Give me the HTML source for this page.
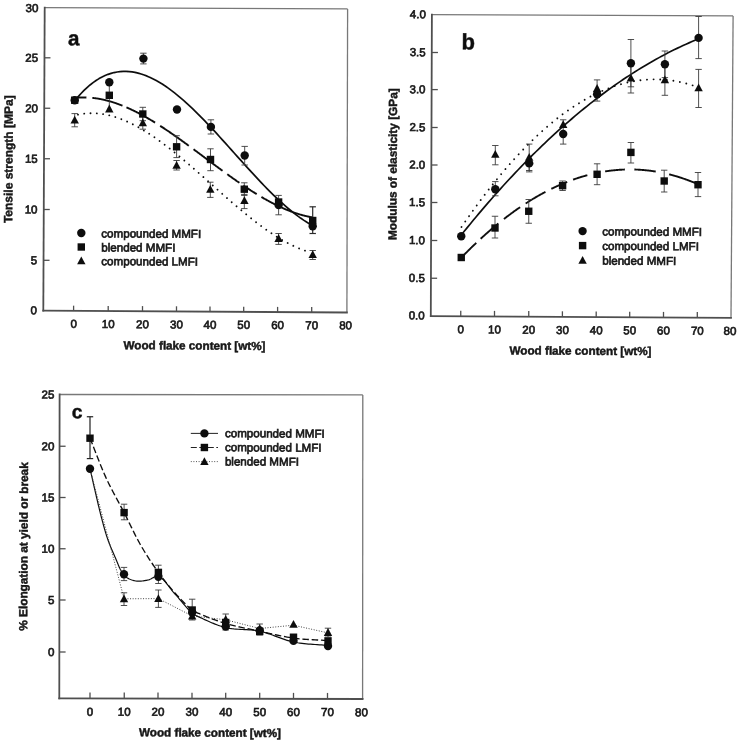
<!DOCTYPE html>
<html><head><meta charset="utf-8"><title>Figure</title>
<style>
html,body{margin:0;padding:0;background:#fff;}
body{width:740px;height:743px;overflow:hidden;font-family:"Liberation Sans",sans-serif;}
svg{display:block;font-family:"Liberation Sans",sans-serif;}
</style></head><body>
<svg width="740" height="743" viewBox="0 0 740 743">
<defs><filter id="soft" x="-2%" y="-2%" width="104%" height="104%"><feGaussianBlur stdDeviation="0.62"/></filter></defs>
<rect width="740" height="743" fill="#fff"/>
<g filter="url(#soft)">
<line x1="44.70" y1="7.70" x2="347.60" y2="8.90" stroke="#787878" stroke-width="1.3" />
<line x1="347.60" y1="8.90" x2="346.90" y2="312.50" stroke="#787878" stroke-width="1.3" />
<line x1="43.30" y1="310.70" x2="346.90" y2="312.50" stroke="#505050" stroke-width="1.8" stroke-linecap="square"/>
<line x1="44.70" y1="7.70" x2="43.30" y2="310.70" stroke="#505050" stroke-width="1.8" stroke-linecap="square"/>
<text x="38.40" y="12.00" font-size="11.5" text-anchor="end" transform="rotate(0.3 38.40 12.00)" fill="#161616" stroke="#161616" stroke-width="0.65">30</text>
<line x1="44.47" y1="57.80" x2="50.47" y2="57.80" stroke="#505050" stroke-width="1.3" />
<text x="38.17" y="61.90" font-size="11.5" text-anchor="end" transform="rotate(0.3 38.17 61.90)" fill="#161616" stroke="#161616" stroke-width="0.65">25</text>
<line x1="44.24" y1="108.25" x2="50.24" y2="108.25" stroke="#505050" stroke-width="1.3" />
<text x="37.94" y="112.35" font-size="11.5" text-anchor="end" transform="rotate(0.3 37.94 112.35)" fill="#161616" stroke="#161616" stroke-width="0.65">20</text>
<line x1="44.00" y1="158.75" x2="50.00" y2="158.75" stroke="#505050" stroke-width="1.3" />
<text x="37.70" y="162.85" font-size="11.5" text-anchor="end" transform="rotate(0.3 37.70 162.85)" fill="#161616" stroke="#161616" stroke-width="0.65">15</text>
<line x1="43.77" y1="209.50" x2="49.77" y2="209.50" stroke="#505050" stroke-width="1.3" />
<text x="37.47" y="213.60" font-size="11.5" text-anchor="end" transform="rotate(0.3 37.47 213.60)" fill="#161616" stroke="#161616" stroke-width="0.65">10</text>
<line x1="43.53" y1="260.30" x2="49.53" y2="260.30" stroke="#505050" stroke-width="1.3" />
<text x="37.23" y="264.40" font-size="11.5" text-anchor="end" transform="rotate(0.3 37.23 264.40)" fill="#161616" stroke="#161616" stroke-width="0.65">5</text>
<text x="37.00" y="314.40" font-size="11.5" text-anchor="end" transform="rotate(0.3 37.00 314.40)" fill="#161616" stroke="#161616" stroke-width="0.65">0</text>
<line x1="73.60" y1="310.88" x2="73.60" y2="305.68" stroke="#505050" stroke-width="1.3" />
<text x="73.60" y="327.88" font-size="11.5" text-anchor="middle" transform="rotate(0.3 73.60 327.88)" fill="#161616" stroke="#161616" stroke-width="0.65">0</text>
<line x1="108.20" y1="311.08" x2="108.20" y2="305.88" stroke="#505050" stroke-width="1.3" />
<text x="108.20" y="328.08" font-size="11.5" text-anchor="middle" transform="rotate(0.3 108.20 328.08)" fill="#161616" stroke="#161616" stroke-width="0.65">10</text>
<line x1="142.50" y1="311.29" x2="142.50" y2="306.09" stroke="#505050" stroke-width="1.3" />
<text x="142.50" y="328.29" font-size="11.5" text-anchor="middle" transform="rotate(0.3 142.50 328.29)" fill="#161616" stroke="#161616" stroke-width="0.65">20</text>
<line x1="176.50" y1="311.49" x2="176.50" y2="306.29" stroke="#505050" stroke-width="1.3" />
<text x="176.50" y="328.49" font-size="11.5" text-anchor="middle" transform="rotate(0.3 176.50 328.49)" fill="#161616" stroke="#161616" stroke-width="0.65">30</text>
<line x1="210.00" y1="311.69" x2="210.00" y2="306.49" stroke="#505050" stroke-width="1.3" />
<text x="210.00" y="328.69" font-size="11.5" text-anchor="middle" transform="rotate(0.3 210.00 328.69)" fill="#161616" stroke="#161616" stroke-width="0.65">40</text>
<line x1="243.70" y1="311.89" x2="243.70" y2="306.69" stroke="#505050" stroke-width="1.3" />
<text x="243.70" y="328.89" font-size="11.5" text-anchor="middle" transform="rotate(0.3 243.70 328.89)" fill="#161616" stroke="#161616" stroke-width="0.65">50</text>
<line x1="277.60" y1="312.09" x2="277.60" y2="306.89" stroke="#505050" stroke-width="1.3" />
<text x="277.60" y="329.09" font-size="11.5" text-anchor="middle" transform="rotate(0.3 277.60 329.09)" fill="#161616" stroke="#161616" stroke-width="0.65">60</text>
<line x1="311.70" y1="312.29" x2="311.70" y2="307.09" stroke="#505050" stroke-width="1.3" />
<text x="311.70" y="329.29" font-size="11.5" text-anchor="middle" transform="rotate(0.3 311.70 329.29)" fill="#161616" stroke="#161616" stroke-width="0.65">70</text>
<text x="345.60" y="329.20" font-size="11.5" text-anchor="middle" transform="rotate(0.3 345.60 329.20)" fill="#161616" stroke="#161616" stroke-width="0.65">80</text>
<text x="194.50" y="349.60" font-size="11.7" text-anchor="middle" font-weight="bold" transform="rotate(0.3 194.50 349.60)" fill="#161616" stroke="#161616" stroke-width="0.45">Wood flake content [wt%]</text>
<text x="12.60" y="159.20" font-size="12" text-anchor="middle" font-weight="bold" transform="rotate(-89.7 12.60 159.20)" fill="#161616" stroke="#161616" stroke-width="0.45">Tensile strength [MPa]</text>
<text x="73.60" y="45.40" font-size="20.5" text-anchor="middle" font-weight="bold" transform="rotate(0.3 73.60 45.40)" fill="#111" stroke="#111" stroke-width="0.45">a</text>
<path d="M75.00 100.46 L78.01 96.84 L81.02 93.49 L84.02 90.39 L87.03 87.55 L90.04 84.96 L93.05 82.61 L96.05 80.50 L99.06 78.62 L102.07 76.97 L105.08 75.54 L108.08 74.33 L111.09 73.34 L114.10 72.55 L117.11 71.97 L120.11 71.58 L123.12 71.38 L126.13 71.38 L129.14 71.55 L132.14 71.91 L135.15 72.43 L138.16 73.13 L141.17 73.98 L144.17 74.99 L147.18 76.16 L150.19 77.47 L153.20 78.92 L156.21 80.51 L159.21 82.23 L162.22 84.08 L165.23 86.05 L168.24 88.14 L171.24 90.34 L174.25 92.64 L177.26 95.04 L180.27 97.54 L183.27 100.14 L186.28 102.81 L189.29 105.57 L192.30 108.41 L195.30 111.31 L198.31 114.29 L201.32 117.32 L204.33 120.40 L207.33 123.54 L210.34 126.72 L213.35 129.95 L216.36 133.20 L219.36 136.49 L222.37 139.81 L225.38 143.14 L228.39 146.49 L231.39 149.84 L234.40 153.21 L237.41 156.57 L240.42 159.92 L243.43 163.27 L246.43 166.60 L249.44 169.91 L252.45 173.19 L255.46 176.45 L258.46 179.66 L261.47 182.84 L264.48 185.97 L267.49 189.04 L270.49 192.07 L273.50 195.03 L276.51 197.92 L279.52 200.74 L282.52 203.49 L285.53 206.15 L288.54 208.73 L291.55 211.21 L294.55 213.60 L297.56 215.89 L300.57 218.07 L303.58 220.13 L306.58 222.08 L309.59 223.91 L312.60 225.61" fill="none" stroke="#111" stroke-width="1.7" stroke-linecap="butt" stroke-linejoin="round"/>
<path d="M77.00 97.70 L77.39 97.67 L77.78 97.64 L78.18 97.61 L78.57 97.59 L78.96 97.56 L79.35 97.54 L79.75 97.52 L80.14 97.50 L80.53 97.49 L80.92 97.47 L81.32 97.46 L81.71 97.45 L82.10 97.44 L82.49 97.43 L82.88 97.43 L83.28 97.43 L83.67 97.43 L84.06 97.43 L84.45 97.43 L84.85 97.43 L85.24 97.44 L85.63 97.45 L86.02 97.46 L86.42 97.47" fill="none" stroke="#111" stroke-width="1.9" stroke-linecap="butt" stroke-linejoin="round"/>
<path d="M92.30 97.87 L92.69 97.91 L93.09 97.96 L93.48 98.00 L93.87 98.05 L94.26 98.09 L94.65 98.14 L95.05 98.19 L95.44 98.25 L95.83 98.30 L96.22 98.36 L96.62 98.42 L97.01 98.48 L97.40 98.54 L97.79 98.60 L98.19 98.67 L98.58 98.73 L98.97 98.80 L99.36 98.87 L99.75 98.94 L100.15 99.02 L100.54 99.09 L100.93 99.17 L101.32 99.25 L101.72 99.33 L102.11 99.41 L102.50 99.49 L102.89 99.57 L103.29 99.66 L103.68 99.75 L104.07 99.84 L104.46 99.93 L104.85 100.02 L105.25 100.11 L105.64 100.21 L106.03 100.31 L106.42 100.41 L106.82 100.51 L107.21 100.61 L107.60 100.71 L107.99 100.82 L108.39 100.92 L108.78 101.03 L109.17 101.14 L109.56 101.25 L109.95 101.36 L110.35 101.48 L110.74 101.59 L111.13 101.71 L111.52 101.83 L111.92 101.95 L112.31 102.07 L112.70 102.19 L113.09 102.31 L113.49 102.44 L113.88 102.57 L114.27 102.69 L114.66 102.82 L115.06 102.95 L115.45 103.09 L115.84 103.22 L116.23 103.36 L116.62 103.49 L117.02 103.63 L117.41 103.77 L117.80 103.91 L118.19 104.05 L118.59 104.20 L118.98 104.34 L119.37 104.49 L119.76 104.63 L120.16 104.78 L120.55 104.93 L120.94 105.08 L121.33 105.24 L121.72 105.39 L122.12 105.55 L122.51 105.70" fill="none" stroke="#111" stroke-width="1.9" stroke-linecap="butt" stroke-linejoin="round"/>
<path d="M126.43 107.34 L126.82 107.51 L127.22 107.68 L127.61 107.86 L128.00 108.03 L128.39 108.20 L128.79 108.38 L129.18 108.56 L129.57 108.74 L129.96 108.92 L130.36 109.10 L130.75 109.28 L131.14 109.47 L131.53 109.65 L131.92 109.84 L132.32 110.02 L132.71 110.21 L133.10 110.40 L133.49 110.59 L133.89 110.78 L134.28 110.97 L134.67 111.17 L135.06 111.36 L135.46 111.56 L135.85 111.76 L136.24 111.95 L136.63 112.15 L137.03 112.35 L137.42 112.56 L137.81 112.76 L138.20 112.96 L138.59 113.17 L138.99 113.37 L139.38 113.58 L139.77 113.78 L140.16 113.99 L140.56 114.20 L140.95 114.41 L141.34 114.63 L141.73 114.84 L142.13 115.05 L142.52 115.27 L142.91 115.48 L143.30 115.70 L143.69 115.92 L144.09 116.13 L144.48 116.35 L144.87 116.57 L145.26 116.79 L145.66 117.02 L146.05 117.24 L146.44 117.46 L146.83 117.69 L147.23 117.91 L147.62 118.14 L148.01 118.37 L148.40 118.60 L148.79 118.83 L149.19 119.06 L149.58 119.29 L149.97 119.52 L150.36 119.75 L150.76 119.99 L151.15 120.22 L151.54 120.46 L151.93 120.69 L152.33 120.93 L152.72 121.17 L153.11 121.41 L153.50 121.65 L153.89 121.89 L154.29 122.13 L154.68 122.37 L155.07 122.61" fill="none" stroke="#111" stroke-width="1.9" stroke-linecap="butt" stroke-linejoin="round"/>
<path d="M160.17 125.84 L160.56 126.09 L160.96 126.34 L161.35 126.60 L161.74 126.85 L162.13 127.11 L162.53 127.37 L162.92 127.62 L163.31 127.88 L163.70 128.14 L164.10 128.40 L164.49 128.66 L164.88 128.92 L165.27 129.18 L165.66 129.44 L166.06 129.71 L166.45 129.97 L166.84 130.23 L167.23 130.50 L167.63 130.76 L168.02 131.03 L168.41 131.29 L168.80 131.56 L169.20 131.83 L169.59 132.09 L169.98 132.36 L170.37 132.63 L170.76 132.90 L171.16 133.17 L171.55 133.44 L171.94 133.71 L172.33 133.98 L172.73 134.25 L173.12 134.53 L173.51 134.80 L173.90 135.07 L174.30 135.35 L174.69 135.62 L175.08 135.89 L175.47 136.17 L175.86 136.45 L176.26 136.72 L176.65 137.00 L177.04 137.28 L177.43 137.55 L177.83 137.83 L178.22 138.11 L178.61 138.39 L179.00 138.67 L179.40 138.95 L179.79 139.23 L180.18 139.51 L180.57 139.79 L180.96 140.07 L181.36 140.35 L181.75 140.63 L182.14 140.92 L182.53 141.20 L182.93 141.48 L183.32 141.76 L183.71 142.05 L184.10 142.33 L184.50 142.62 L184.89 142.90 L185.28 143.19 L185.67 143.47 L186.07 143.76 L186.46 144.04 L186.85 144.33 L187.24 144.62 L187.63 144.90 L188.03 145.19 L188.42 145.48 L188.81 145.77" fill="none" stroke="#111" stroke-width="1.9" stroke-linecap="butt" stroke-linejoin="round"/>
<path d="M193.52 149.24 L193.91 149.53 L194.30 149.82 L194.70 150.11 L195.09 150.40 L195.48 150.69 L195.87 150.98 L196.27 151.27 L196.66 151.56 L197.05 151.86 L197.44 152.15 L197.83 152.44 L198.23 152.73 L198.62 153.02 L199.01 153.32 L199.40 153.61 L199.80 153.90 L200.19 154.19 L200.58 154.49 L200.97 154.78 L201.37 155.07 L201.76 155.37 L202.15 155.66 L202.54 155.95 L202.93 156.24 L203.33 156.54 L203.72 156.83 L204.11 157.12 L204.50 157.42 L204.90 157.71 L205.29 158.00 L205.68 158.30 L206.07 158.59 L206.47 158.88 L206.86 159.18 L207.25 159.47 L207.64 159.76 L208.04 160.05 L208.43 160.35 L208.82 160.64 L209.21 160.93 L209.60 161.23 L210.00 161.52 L210.39 161.81 L210.78 162.10 L211.17 162.40 L211.57 162.69 L211.96 162.98 L212.35 163.27 L212.74 163.57 L213.14 163.86 L213.53 164.15 L213.92 164.44 L214.31 164.73 L214.70 165.02 L215.10 165.32 L215.49 165.61 L215.88 165.90 L216.27 166.19 L216.67 166.48 L217.06 166.77 L217.45 167.06 L217.84 167.35 L218.24 167.64 L218.63 167.93 L219.02 168.22 L219.41 168.51 L219.80 168.80 L220.20 169.09 L220.59 169.38 L220.98 169.66 L221.37 169.95 L221.77 170.24 L222.16 170.53 L222.55 170.82" fill="none" stroke="#111" stroke-width="1.9" stroke-linecap="butt" stroke-linejoin="round"/>
<path d="M227.26 174.24 L227.65 174.53 L228.04 174.81 L228.44 175.09 L228.83 175.37 L229.22 175.66 L229.61 175.94 L230.01 176.22 L230.40 176.50 L230.79 176.78 L231.18 177.06 L231.57 177.34 L231.97 177.62 L232.36 177.90 L232.75 178.18 L233.14 178.45 L233.54 178.73 L233.93 179.01 L234.32 179.29 L234.71 179.56 L235.11 179.84 L235.50 180.11 L235.89 180.39 L236.28 180.66 L236.67 180.94 L237.07 181.21 L237.46 181.48 L237.85 181.76 L238.24 182.03 L238.64 182.30 L239.03 182.57 L239.42 182.84" fill="none" stroke="#111" stroke-width="1.9" stroke-linecap="butt" stroke-linejoin="round"/>
<path d="M243.34 185.51 L243.74 185.78 L244.13 186.04 L244.52 186.30 L244.91 186.57 L245.31 186.83 L245.70 187.09 L246.09 187.35 L246.48 187.61 L246.87 187.87 L247.27 188.13 L247.66 188.39 L248.05 188.64 L248.44 188.90 L248.84 189.16 L249.23 189.41 L249.62 189.67 L250.01 189.92 L250.41 190.17 L250.80 190.43 L251.19 190.68 L251.58 190.93 L251.97 191.18 L252.37 191.43 L252.76 191.68 L253.15 191.93 L253.54 192.17 L253.94 192.42 L254.33 192.67 L254.72 192.91 L255.11 193.16 L255.51 193.40 L255.90 193.64 L256.29 193.88 L256.68 194.13" fill="none" stroke="#111" stroke-width="1.9" stroke-linecap="butt" stroke-linejoin="round"/>
<path d="M261.39 196.96 L261.78 197.19 L262.18 197.42 L262.57 197.65 L262.96 197.87 L263.35 198.10 L263.74 198.33 L264.14 198.55 L264.53 198.77 L264.92 199.00 L265.31 199.22 L265.71 199.44 L266.10 199.66 L266.49 199.88 L266.88 200.10 L267.28 200.32 L267.67 200.53 L268.06 200.75 L268.45 200.96 L268.84 201.18 L269.24 201.39 L269.63 201.60 L270.02 201.81 L270.41 202.02 L270.81 202.23 L271.20 202.44 L271.59 202.65 L271.98 202.85 L272.38 203.06 L272.77 203.26 L273.16 203.46 L273.55 203.66 L273.94 203.86 L274.34 204.06 L274.73 204.26 L275.12 204.46 L275.51 204.65 L275.91 204.85 L276.30 205.04 L276.69 205.24 L277.08 205.43 L277.48 205.62 L277.87 205.81 L278.26 206.00 L278.65 206.18 L279.05 206.37 L279.44 206.55 L279.83 206.74 L280.22 206.92 L280.61 207.10 L281.01 207.28 L281.40 207.46 L281.79 207.64 L282.18 207.82 L282.58 207.99 L282.97 208.17 L283.36 208.34 L283.75 208.51 L284.15 208.68 L284.54 208.85 L284.93 209.02 L285.32 209.19 L285.71 209.35 L286.11 209.52 L286.50 209.68 L286.89 209.84 L287.28 210.00 L287.68 210.16 L288.07 210.32 L288.46 210.48 L288.85 210.63 L289.25 210.79 L289.64 210.94 L290.03 211.09 L290.42 211.24 L290.81 211.39 L291.21 211.54 L291.60 211.68 L291.99 211.83 L292.38 211.97 L292.78 212.11 L293.17 212.26 L293.56 212.40 L293.95 212.53 L294.35 212.67 L294.74 212.81 L295.13 212.94 L295.52 213.07 L295.91 213.20 L296.31 213.33 L296.70 213.46 L297.09 213.59 L297.48 213.71 L297.88 213.84 L298.27 213.96 L298.66 214.08 L299.05 214.20 L299.45 214.32 L299.84 214.44 L300.23 214.55 L300.62 214.67 L301.02 214.78 L301.41 214.89 L301.80 215.00 L302.19 215.11 L302.58 215.21 L302.98 215.32 L303.37 215.42 L303.76 215.52 L304.15 215.62 L304.55 215.72 L304.94 215.82 L305.33 215.92 L305.72 216.01 L306.12 216.10 L306.51 216.19 L306.90 216.28 L307.29 216.37 L307.68 216.46 L308.08 216.54 L308.47 216.63 L308.86 216.71 L309.25 216.79 L309.65 216.87 L310.04 216.94 L310.43 217.02 L310.82 217.09 L311.22 217.16 L311.61 217.23 L312.00 217.30" fill="none" stroke="#111" stroke-width="1.9" stroke-linecap="butt" stroke-linejoin="round"/>
<path d="M78.00 114.67 L80.92 114.10 L83.85 113.68 L86.77 113.39 L89.70 113.23 L92.62 113.20 L95.54 113.30 L98.47 113.52 L101.39 113.86 L104.32 114.32 L107.24 114.89 L110.16 115.58 L113.09 116.37 L116.01 117.27 L118.94 118.26 L121.86 119.36 L124.78 120.55 L127.71 121.84 L130.63 123.21 L133.56 124.67 L136.48 126.21 L139.41 127.83 L142.33 129.53 L145.25 131.30 L148.18 133.14 L151.10 135.05 L154.03 137.03 L156.95 139.06 L159.87 141.16 L162.80 143.31 L165.72 145.51 L168.65 147.75 L171.57 150.05 L174.49 152.38 L177.42 154.76 L180.34 157.17 L183.27 159.62 L186.19 162.09 L189.11 164.60 L192.04 167.12 L194.96 169.67 L197.89 172.23 L200.81 174.81 L203.73 177.40 L206.66 180.00 L209.58 182.60 L212.51 185.21 L215.43 187.81 L218.35 190.41 L221.28 193.01 L224.20 195.59 L227.13 198.16 L230.05 200.71 L232.97 203.24 L235.90 205.75 L238.82 208.24 L241.75 210.69 L244.67 213.11 L247.59 215.50 L250.52 217.85 L253.44 220.16 L256.37 222.42 L259.29 224.63 L262.22 226.80 L265.14 228.91 L268.06 230.96 L270.99 232.95 L273.91 234.88 L276.84 236.74 L279.76 238.54 L282.68 240.26 L285.61 241.90 L288.53 243.47 L291.46 244.95 L294.38 246.35 L297.30 247.66 L300.23 248.88 L303.15 250.00 L306.08 251.03 L309.00 251.96" fill="none" stroke="#111" stroke-width="1.9" stroke-dasharray="0.01 6.3" stroke-dashoffset="0" stroke-linecap="round" stroke-linejoin="round"/>
<line x1="74.70" y1="113.60" x2="74.70" y2="126.80" stroke="#3a3a3a" stroke-width="0.9" />
<line x1="71.50" y1="113.60" x2="77.90" y2="113.60" stroke="#3a3a3a" stroke-width="0.9" />
<line x1="71.50" y1="126.80" x2="77.90" y2="126.80" stroke="#3a3a3a" stroke-width="0.9" />
<line x1="143.40" y1="53.20" x2="143.40" y2="63.90" stroke="#3a3a3a" stroke-width="0.9" />
<line x1="140.20" y1="53.20" x2="146.60" y2="53.20" stroke="#3a3a3a" stroke-width="0.9" />
<line x1="140.20" y1="63.90" x2="146.60" y2="63.90" stroke="#3a3a3a" stroke-width="0.9" />
<line x1="142.80" y1="107.30" x2="142.80" y2="120.70" stroke="#3a3a3a" stroke-width="0.9" />
<line x1="139.60" y1="107.30" x2="146.00" y2="107.30" stroke="#3a3a3a" stroke-width="0.9" />
<line x1="139.60" y1="120.70" x2="146.00" y2="120.70" stroke="#3a3a3a" stroke-width="0.9" />
<line x1="142.80" y1="116.50" x2="142.80" y2="129.20" stroke="#3a3a3a" stroke-width="0.9" />
<line x1="139.60" y1="116.50" x2="146.00" y2="116.50" stroke="#3a3a3a" stroke-width="0.9" />
<line x1="139.60" y1="129.20" x2="146.00" y2="129.20" stroke="#3a3a3a" stroke-width="0.9" />
<line x1="176.60" y1="135.70" x2="176.60" y2="157.60" stroke="#3a3a3a" stroke-width="0.9" />
<line x1="173.40" y1="135.70" x2="179.80" y2="135.70" stroke="#3a3a3a" stroke-width="0.9" />
<line x1="173.40" y1="157.60" x2="179.80" y2="157.60" stroke="#3a3a3a" stroke-width="0.9" />
<line x1="176.60" y1="160.50" x2="176.60" y2="170.00" stroke="#3a3a3a" stroke-width="0.9" />
<line x1="173.40" y1="160.50" x2="179.80" y2="160.50" stroke="#3a3a3a" stroke-width="0.9" />
<line x1="173.40" y1="170.00" x2="179.80" y2="170.00" stroke="#3a3a3a" stroke-width="0.9" />
<line x1="210.90" y1="119.80" x2="210.90" y2="134.00" stroke="#3a3a3a" stroke-width="0.9" />
<line x1="207.70" y1="119.80" x2="214.10" y2="119.80" stroke="#3a3a3a" stroke-width="0.9" />
<line x1="207.70" y1="134.00" x2="214.10" y2="134.00" stroke="#3a3a3a" stroke-width="0.9" />
<line x1="210.50" y1="148.80" x2="210.50" y2="170.70" stroke="#3a3a3a" stroke-width="0.9" />
<line x1="207.30" y1="148.80" x2="213.70" y2="148.80" stroke="#3a3a3a" stroke-width="0.9" />
<line x1="207.30" y1="170.70" x2="213.70" y2="170.70" stroke="#3a3a3a" stroke-width="0.9" />
<line x1="210.30" y1="182.20" x2="210.30" y2="197.40" stroke="#3a3a3a" stroke-width="0.9" />
<line x1="207.10" y1="182.20" x2="213.50" y2="182.20" stroke="#3a3a3a" stroke-width="0.9" />
<line x1="207.10" y1="197.40" x2="213.50" y2="197.40" stroke="#3a3a3a" stroke-width="0.9" />
<line x1="244.70" y1="146.40" x2="244.70" y2="165.00" stroke="#3a3a3a" stroke-width="0.9" />
<line x1="241.50" y1="146.40" x2="247.90" y2="146.40" stroke="#3a3a3a" stroke-width="0.9" />
<line x1="241.50" y1="165.00" x2="247.90" y2="165.00" stroke="#3a3a3a" stroke-width="0.9" />
<line x1="244.30" y1="182.80" x2="244.30" y2="195.40" stroke="#3a3a3a" stroke-width="0.9" />
<line x1="241.10" y1="182.80" x2="247.50" y2="182.80" stroke="#3a3a3a" stroke-width="0.9" />
<line x1="241.10" y1="195.40" x2="247.50" y2="195.40" stroke="#3a3a3a" stroke-width="0.9" />
<line x1="244.30" y1="194.40" x2="244.30" y2="208.60" stroke="#3a3a3a" stroke-width="0.9" />
<line x1="241.10" y1="194.40" x2="247.50" y2="194.40" stroke="#3a3a3a" stroke-width="0.9" />
<line x1="241.10" y1="208.60" x2="247.50" y2="208.60" stroke="#3a3a3a" stroke-width="0.9" />
<line x1="278.60" y1="195.40" x2="278.60" y2="214.80" stroke="#3a3a3a" stroke-width="0.9" />
<line x1="275.40" y1="195.40" x2="281.80" y2="195.40" stroke="#3a3a3a" stroke-width="0.9" />
<line x1="275.40" y1="214.80" x2="281.80" y2="214.80" stroke="#3a3a3a" stroke-width="0.9" />
<line x1="278.60" y1="233.50" x2="278.60" y2="244.40" stroke="#3a3a3a" stroke-width="0.9" />
<line x1="275.40" y1="233.50" x2="281.80" y2="233.50" stroke="#3a3a3a" stroke-width="0.9" />
<line x1="275.40" y1="244.40" x2="281.80" y2="244.40" stroke="#3a3a3a" stroke-width="0.9" />
<line x1="312.70" y1="250.50" x2="312.70" y2="259.50" stroke="#3a3a3a" stroke-width="0.9" />
<line x1="309.50" y1="250.50" x2="315.90" y2="250.50" stroke="#3a3a3a" stroke-width="0.9" />
<line x1="309.50" y1="259.50" x2="315.90" y2="259.50" stroke="#3a3a3a" stroke-width="0.9" />
<line x1="312.70" y1="206.80" x2="312.70" y2="233.50" stroke="#2a2a2a" stroke-width="1.2" />
<line x1="309.50" y1="206.80" x2="315.90" y2="206.80" stroke="#2a2a2a" stroke-width="1.2" />
<line x1="309.50" y1="233.50" x2="315.90" y2="233.50" stroke="#2a2a2a" stroke-width="1.2" />
<line x1="109.30" y1="84.00" x2="109.30" y2="92.00" stroke="#3a3a3a" stroke-width="0.9" />
<line x1="109.30" y1="98.00" x2="109.30" y2="106.00" stroke="#3a3a3a" stroke-width="0.9" />
<path d="M74.70 115.81 L78.90 123.61 L70.50 123.61Z" fill="#111"/>
<path d="M109.30 104.61 L113.50 112.41 L105.10 112.41Z" fill="#111"/>
<path d="M142.80 118.41 L147.00 126.21 L138.60 126.21Z" fill="#111"/>
<path d="M176.60 161.01 L180.80 168.81 L172.40 168.81Z" fill="#111"/>
<path d="M210.30 185.01 L214.50 192.81 L206.10 192.81Z" fill="#111"/>
<path d="M244.40 196.31 L248.60 204.11 L240.20 204.11Z" fill="#111"/>
<path d="M278.60 234.11 L282.80 241.91 L274.40 241.91Z" fill="#111"/>
<path d="M312.70 250.31 L316.90 258.11 L308.50 258.11Z" fill="#111"/>
<rect x="71.00" y="96.50" width="7.4" height="7.4" fill="#111"/>
<rect x="105.60" y="91.60" width="7.4" height="7.4" fill="#111"/>
<rect x="139.10" y="110.30" width="7.4" height="7.4" fill="#111"/>
<rect x="172.90" y="143.10" width="7.4" height="7.4" fill="#111"/>
<rect x="206.80" y="155.80" width="7.4" height="7.4" fill="#111"/>
<rect x="240.60" y="185.50" width="7.4" height="7.4" fill="#111"/>
<rect x="274.90" y="198.30" width="7.4" height="7.4" fill="#111"/>
<rect x="309.00" y="216.80" width="7.4" height="7.4" fill="#111"/>
<circle cx="74.70" cy="100.20" r="4.2" fill="#111"/>
<circle cx="109.30" cy="82.20" r="4.2" fill="#111"/>
<circle cx="143.40" cy="58.60" r="4.2" fill="#111"/>
<circle cx="177.00" cy="109.50" r="4.2" fill="#111"/>
<circle cx="210.90" cy="126.90" r="4.2" fill="#111"/>
<circle cx="244.70" cy="155.50" r="4.2" fill="#111"/>
<circle cx="278.60" cy="205.10" r="4.2" fill="#111"/>
<circle cx="312.70" cy="226.20" r="4.2" fill="#111"/>
<circle cx="81.30" cy="233.00" r="4.2" fill="#111"/>
<rect x="77.60" y="243.30" width="7.4" height="7.4" fill="#111"/>
<path d="M81.30 256.51 L85.50 264.31 L77.10 264.31Z" fill="#111"/>
<text x="101.30" y="237.40" font-size="11.6" text-anchor="start" transform="rotate(0.3 101.30 237.40)" fill="#161616" stroke="#161616" stroke-width="0.65">compounded MMFI</text>
<text x="101.30" y="251.40" font-size="11.6" text-anchor="start" transform="rotate(0.3 101.30 251.40)" fill="#161616" stroke="#161616" stroke-width="0.65">blended MMFI</text>
<text x="101.30" y="265.20" font-size="11.6" text-anchor="start" transform="rotate(0.3 101.30 265.20)" fill="#161616" stroke="#161616" stroke-width="0.65">compounded LMFI</text>
<line x1="431.90" y1="14.60" x2="733.10" y2="15.90" stroke="#787878" stroke-width="1.3" />
<line x1="733.10" y1="15.90" x2="731.00" y2="317.90" stroke="#787878" stroke-width="1.3" />
<line x1="430.80" y1="316.10" x2="731.00" y2="317.90" stroke="#505050" stroke-width="1.8" stroke-linecap="square"/>
<line x1="431.90" y1="14.60" x2="430.80" y2="316.10" stroke="#505050" stroke-width="1.8" stroke-linecap="square"/>
<text x="425.80" y="18.30" font-size="11.5" text-anchor="end" transform="rotate(0.3 425.80 18.30)" fill="#161616" stroke="#161616" stroke-width="0.65">4.0</text>
<line x1="431.76" y1="52.50" x2="437.96" y2="52.50" stroke="#505050" stroke-width="1.3" />
<text x="425.66" y="56.20" font-size="11.5" text-anchor="end" transform="rotate(0.3 425.66 56.20)" fill="#161616" stroke="#161616" stroke-width="0.65">3.5</text>
<line x1="431.63" y1="89.60" x2="437.83" y2="89.60" stroke="#505050" stroke-width="1.3" />
<text x="425.53" y="93.30" font-size="11.5" text-anchor="end" transform="rotate(0.3 425.53 93.30)" fill="#161616" stroke="#161616" stroke-width="0.65">3.0</text>
<line x1="431.49" y1="127.50" x2="437.69" y2="127.50" stroke="#505050" stroke-width="1.3" />
<text x="425.39" y="131.20" font-size="11.5" text-anchor="end" transform="rotate(0.3 425.39 131.20)" fill="#161616" stroke="#161616" stroke-width="0.65">2.5</text>
<line x1="431.35" y1="165.00" x2="437.55" y2="165.00" stroke="#505050" stroke-width="1.3" />
<text x="425.25" y="168.70" font-size="11.5" text-anchor="end" transform="rotate(0.3 425.25 168.70)" fill="#161616" stroke="#161616" stroke-width="0.65">2.0</text>
<line x1="431.21" y1="202.50" x2="437.41" y2="202.50" stroke="#505050" stroke-width="1.3" />
<text x="425.11" y="206.20" font-size="11.5" text-anchor="end" transform="rotate(0.3 425.11 206.20)" fill="#161616" stroke="#161616" stroke-width="0.65">1.5</text>
<line x1="431.08" y1="240.50" x2="437.28" y2="240.50" stroke="#505050" stroke-width="1.3" />
<text x="424.98" y="244.20" font-size="11.5" text-anchor="end" transform="rotate(0.3 424.98 244.20)" fill="#161616" stroke="#161616" stroke-width="0.65">1.0</text>
<line x1="430.94" y1="278.25" x2="437.14" y2="278.25" stroke="#505050" stroke-width="1.3" />
<text x="424.84" y="281.95" font-size="11.5" text-anchor="end" transform="rotate(0.3 424.84 281.95)" fill="#161616" stroke="#161616" stroke-width="0.65">0.5</text>
<text x="424.70" y="319.45" font-size="11.5" text-anchor="end" transform="rotate(0.3 424.70 319.45)" fill="#161616" stroke="#161616" stroke-width="0.65">0.0</text>
<line x1="460.75" y1="316.28" x2="460.75" y2="310.68" stroke="#505050" stroke-width="1.3" />
<text x="460.75" y="333.38" font-size="11.5" text-anchor="middle" transform="rotate(0.3 460.75 333.38)" fill="#161616" stroke="#161616" stroke-width="0.65">0</text>
<line x1="494.50" y1="316.48" x2="494.50" y2="310.88" stroke="#505050" stroke-width="1.3" />
<text x="494.50" y="333.58" font-size="11.5" text-anchor="middle" transform="rotate(0.3 494.50 333.58)" fill="#161616" stroke="#161616" stroke-width="0.65">10</text>
<line x1="528.75" y1="316.69" x2="528.75" y2="311.09" stroke="#505050" stroke-width="1.3" />
<text x="528.75" y="333.79" font-size="11.5" text-anchor="middle" transform="rotate(0.3 528.75 333.79)" fill="#161616" stroke="#161616" stroke-width="0.65">20</text>
<line x1="562.40" y1="316.89" x2="562.40" y2="311.29" stroke="#505050" stroke-width="1.3" />
<text x="562.40" y="333.99" font-size="11.5" text-anchor="middle" transform="rotate(0.3 562.40 333.99)" fill="#161616" stroke="#161616" stroke-width="0.65">30</text>
<line x1="596.20" y1="317.09" x2="596.20" y2="311.49" stroke="#505050" stroke-width="1.3" />
<text x="596.20" y="334.19" font-size="11.5" text-anchor="middle" transform="rotate(0.3 596.20 334.19)" fill="#161616" stroke="#161616" stroke-width="0.65">40</text>
<line x1="629.70" y1="317.29" x2="629.70" y2="311.69" stroke="#505050" stroke-width="1.3" />
<text x="629.70" y="334.39" font-size="11.5" text-anchor="middle" transform="rotate(0.3 629.70 334.39)" fill="#161616" stroke="#161616" stroke-width="0.65">50</text>
<line x1="663.50" y1="317.50" x2="663.50" y2="311.90" stroke="#505050" stroke-width="1.3" />
<text x="663.50" y="334.60" font-size="11.5" text-anchor="middle" transform="rotate(0.3 663.50 334.60)" fill="#161616" stroke="#161616" stroke-width="0.65">60</text>
<line x1="697.30" y1="317.70" x2="697.30" y2="312.10" stroke="#505050" stroke-width="1.3" />
<text x="697.30" y="334.80" font-size="11.5" text-anchor="middle" transform="rotate(0.3 697.30 334.80)" fill="#161616" stroke="#161616" stroke-width="0.65">70</text>
<text x="730.00" y="334.90" font-size="11.5" text-anchor="middle" transform="rotate(0.3 730.00 334.90)" fill="#161616" stroke="#161616" stroke-width="0.65">80</text>
<text x="580.50" y="354.80" font-size="11.7" text-anchor="middle" font-weight="bold" transform="rotate(0.3 580.50 354.80)" fill="#161616" stroke="#161616" stroke-width="0.45">Wood flake content [wt%]</text>
<text x="396.80" y="164.20" font-size="11.83" text-anchor="middle" font-weight="bold" transform="rotate(-89.7 396.80 164.20)" fill="#161616" stroke="#161616" stroke-width="0.45">Modulus of elasticity [GPa]</text>
<text x="468.20" y="49.30" font-size="22" text-anchor="middle" font-weight="bold" transform="rotate(0.3 468.20 49.30)" fill="#111" stroke="#111" stroke-width="0.45">b</text>
<path d="M461.25 235.00 L464.25 231.28 L467.24 227.59 L470.24 223.93 L473.24 220.31 L476.23 216.71 L479.23 213.15 L482.23 209.62 L485.22 206.12 L488.22 202.65 L491.22 199.22 L494.22 195.81 L497.21 192.44 L500.21 189.10 L503.21 185.79 L506.20 182.52 L509.20 179.27 L512.20 176.06 L515.19 172.88 L518.19 169.73 L521.19 166.61 L524.18 163.53 L527.18 160.47 L530.18 157.45 L533.17 154.46 L536.17 151.50 L539.17 148.58 L542.16 145.68 L545.16 142.82 L548.16 139.99 L551.16 137.19 L554.15 134.42 L557.15 131.69 L560.15 128.99 L563.14 126.31 L566.14 123.67 L569.14 121.07 L572.13 118.49 L575.13 115.95 L578.13 113.43 L581.12 110.95 L584.12 108.50 L587.12 106.09 L590.11 103.70 L593.11 101.35 L596.11 99.03 L599.10 96.74 L602.10 94.48 L605.10 92.25 L608.09 90.06 L611.09 87.90 L614.09 85.77 L617.09 83.67 L620.08 81.60 L623.08 79.57 L626.08 77.56 L629.07 75.59 L632.07 73.65 L635.07 71.74 L638.06 69.87 L641.06 68.02 L644.06 66.21 L647.05 64.43 L650.05 62.68 L653.05 60.97 L656.04 59.28 L659.04 57.63 L662.04 56.01 L665.03 54.42 L668.03 52.86 L671.03 51.33 L674.03 49.84 L677.02 48.38 L680.02 46.95 L683.02 45.55 L686.01 44.18 L689.01 42.85 L692.01 41.54 L695.00 40.27 L698.00 39.03" fill="none" stroke="#111" stroke-width="1.7" stroke-linecap="butt" stroke-linejoin="round"/>
<path d="M461.50 227.00 L464.47 222.68 L467.44 218.40 L470.41 214.19 L473.37 210.04 L476.34 205.95 L479.31 201.92 L482.28 197.95 L485.25 194.04 L488.22 190.19 L491.18 186.40 L494.15 182.68 L497.12 179.01 L500.09 175.41 L503.06 171.87 L506.03 168.39 L508.99 164.98 L511.96 161.62 L514.93 158.33 L517.90 155.11 L520.87 151.95 L523.84 148.85 L526.80 145.81 L529.77 142.84 L532.74 139.94 L535.71 137.10 L538.68 134.32 L541.65 131.61 L544.61 128.96 L547.58 126.38 L550.55 123.87 L553.52 121.42 L556.49 119.04 L559.46 116.73 L562.42 114.48 L565.39 112.30 L568.36 110.19 L571.33 108.14 L574.30 106.17 L577.27 104.26 L580.23 102.42 L583.20 100.65 L586.17 98.94 L589.14 97.31 L592.11 95.74 L595.08 94.25 L598.04 92.82 L601.01 91.47 L603.98 90.18 L606.95 88.97 L609.92 87.83 L612.89 86.75 L615.85 85.75 L618.82 84.82 L621.79 83.96 L624.76 83.18 L627.73 82.46 L630.70 81.82 L633.66 81.25 L636.63 80.76 L639.60 80.33 L642.57 79.99 L645.54 79.71 L648.51 79.51 L651.47 79.38 L654.44 79.33 L657.41 79.35 L660.38 79.44 L663.35 79.61 L666.32 79.86 L669.28 80.18 L672.25 80.58 L675.22 81.05 L678.19 81.61 L681.16 82.23 L684.13 82.94 L687.09 83.72 L690.06 84.57 L693.03 85.51 L696.00 86.52" fill="none" stroke="#111" stroke-width="1.9" stroke-dasharray="0.01 6.6" stroke-dashoffset="0" stroke-linecap="round" stroke-linejoin="round"/>
<path d="M461.25 257.72 L461.65 257.32 L462.04 256.91 L462.44 256.50 L462.83 256.10 L463.23 255.69 L463.62 255.29 L464.02 254.89 L464.41 254.48 L464.81 254.08 L465.20 253.68 L465.60 253.28 L465.99 252.88 L466.39 252.49 L466.78 252.09 L467.18 251.70 L467.57 251.30 L467.97 250.91 L468.36 250.51 L468.76 250.12 L469.15 249.73 L469.55 249.34 L469.95 248.95 L470.34 248.57 L470.74 248.18 L471.13 247.79 L471.53 247.41 L471.92 247.02 L472.32 246.64 L472.71 246.26 L473.11 245.88 L473.50 245.50 L473.90 245.12 L474.29 244.74 L474.69 244.36 L475.08 243.98 L475.48 243.61 L475.87 243.23 L476.27 242.86" fill="none" stroke="#111" stroke-width="1.9" stroke-linecap="butt" stroke-linejoin="round"/>
<path d="M480.62 238.80 L481.01 238.44 L481.41 238.08 L481.80 237.72 L482.20 237.36 L482.59 237.00 L482.99 236.64 L483.38 236.28 L483.78 235.93 L484.17 235.57 L484.57 235.22 L484.96 234.86 L485.36 234.51 L485.76 234.16 L486.15 233.81 L486.55 233.46 L486.94 233.11 L487.34 232.76 L487.73 232.42 L488.13 232.07 L488.52 231.72 L488.92 231.38 L489.31 231.04 L489.71 230.69 L490.10 230.35 L490.50 230.01 L490.89 229.67 L491.29 229.33 L491.68 229.00 L492.08 228.66 L492.47 228.32 L492.87 227.99 L493.26 227.66 L493.66 227.32 L494.06 226.99 L494.45 226.66 L494.85 226.33 L495.24 226.00 L495.64 225.67 L496.03 225.34 L496.43 225.02 L496.82 224.69 L497.22 224.37 L497.61 224.05 L498.01 223.72 L498.40 223.40" fill="none" stroke="#111" stroke-width="1.9" stroke-linecap="butt" stroke-linejoin="round"/>
<path d="M503.94 219.00 L504.33 218.69 L504.73 218.38 L505.12 218.08 L505.52 217.77 L505.91 217.47 L506.31 217.16 L506.70 216.86 L507.10 216.56 L507.49 216.26 L507.89 215.96 L508.28 215.66 L508.68 215.37 L509.07 215.07 L509.47 214.78 L509.86 214.48 L510.26 214.19 L510.66 213.90 L511.05 213.60 L511.45 213.31 L511.84 213.02 L512.24 212.74 L512.63 212.45 L513.03 212.16 L513.42 211.87 L513.82 211.59 L514.21 211.31 L514.61 211.02 L515.00 210.74 L515.40 210.46 L515.79 210.18 L516.19 209.90 L516.58 209.62 L516.98 209.34 L517.37 209.07 L517.77 208.79 L518.16 208.52 L518.56 208.24 L518.96 207.97 L519.35 207.70 L519.75 207.43 L520.14 207.16" fill="none" stroke="#111" stroke-width="1.9" stroke-linecap="butt" stroke-linejoin="round"/>
<path d="M525.67 203.48 L526.07 203.23 L526.46 202.97 L526.86 202.72 L527.26 202.47 L527.65 202.21 L528.05 201.96 L528.44 201.71 L528.84 201.47 L529.23 201.22 L529.63 200.97 L530.02 200.72 L530.42 200.48 L530.81 200.23 L531.21 199.99 L531.60 199.75 L532.00 199.51 L532.39 199.27 L532.79 199.03 L533.18 198.79 L533.58 198.55 L533.97 198.32 L534.37 198.08 L534.77 197.85 L535.16 197.61 L535.56 197.38 L535.95 197.15 L536.35 196.92 L536.74 196.69 L537.14 196.46 L537.53 196.23 L537.93 196.00 L538.32 195.78 L538.72 195.55 L539.11 195.33 L539.51 195.11 L539.90 194.88 L540.30 194.66 L540.69 194.44 L541.09 194.22 L541.48 194.00 L541.88 193.79 L542.27 193.57 L542.67 193.35 L543.07 193.14 L543.46 192.93 L543.86 192.71 L544.25 192.50 L544.65 192.29 L545.04 192.08 L545.44 191.87" fill="none" stroke="#111" stroke-width="1.9" stroke-linecap="butt" stroke-linejoin="round"/>
<path d="M551.37 188.86 L551.76 188.66 L552.16 188.47 L552.55 188.28 L552.95 188.09 L553.34 187.90 L553.74 187.71 L554.13 187.52 L554.53 187.34 L554.92 187.15 L555.32 186.96 L555.71 186.78 L556.11 186.60 L556.50 186.42 L556.90 186.23 L557.29 186.05 L557.69 185.88 L558.08 185.70 L558.48 185.52 L558.87 185.34 L559.27 185.17 L559.67 185.00 L560.06 184.82 L560.46 184.65 L560.85 184.48 L561.25 184.31 L561.64 184.14 L562.04 183.97 L562.43 183.80 L562.83 183.64 L563.22 183.47 L563.62 183.31 L564.01 183.14 L564.41 182.98 L564.80 182.82 L565.20 182.66 L565.59 182.50 L565.99 182.34 L566.38 182.18 L566.78 182.02 L567.17 181.87" fill="none" stroke="#111" stroke-width="1.9" stroke-linecap="butt" stroke-linejoin="round"/>
<path d="M573.10 179.65 L573.50 179.50 L573.89 179.37 L574.29 179.23 L574.68 179.09 L575.08 178.95 L575.47 178.82 L575.87 178.68 L576.27 178.55 L576.66 178.42 L577.06 178.28 L577.45 178.15 L577.85 178.02 L578.24 177.90 L578.64 177.77 L579.03 177.64 L579.43 177.51 L579.82 177.39 L580.22 177.27 L580.61 177.14 L581.01 177.02 L581.40 176.90 L581.80 176.78 L582.19 176.66 L582.59 176.54 L582.98 176.43 L583.38 176.31 L583.78 176.19 L584.17 176.08 L584.57 175.97 L584.96 175.85 L585.36 175.74 L585.75 175.63 L586.15 175.52 L586.54 175.41 L586.94 175.31 L587.33 175.20" fill="none" stroke="#111" stroke-width="1.9" stroke-linecap="butt" stroke-linejoin="round"/>
<path d="M605.12 171.42 L605.51 171.36 L605.91 171.30 L606.30 171.24 L606.70 171.18 L607.09 171.12 L607.49 171.07 L607.88 171.01 L608.28 170.96 L608.68 170.90 L609.07 170.85 L609.47 170.80 L609.86 170.75 L610.26 170.70 L610.65 170.65 L611.05 170.60 L611.44 170.55 L611.84 170.51 L612.23 170.46 L612.63 170.42 L613.02 170.38 L613.42 170.33 L613.81 170.29 L614.21 170.25 L614.60 170.21 L615.00 170.18 L615.39 170.14 L615.79 170.10 L616.18 170.07 L616.58 170.03 L616.98 170.00 L617.37 169.97 L617.77 169.94 L618.16 169.91 L618.56 169.88 L618.95 169.85 L619.35 169.82 L619.74 169.80 L620.14 169.77 L620.53 169.75 L620.93 169.73 L621.32 169.70 L621.72 169.68 L622.11 169.66 L622.51 169.64 L622.90 169.62 L623.30 169.61 L623.69 169.59 L624.09 169.58 L624.48 169.56 L624.88 169.55" fill="none" stroke="#111" stroke-width="1.9" stroke-linecap="butt" stroke-linejoin="round"/>
<path d="M634.37 169.53 L634.76 169.54 L635.16 169.55 L635.55 169.56 L635.95 169.58 L636.34 169.59 L636.74 169.61 L637.13 169.63 L637.53 169.64 L637.92 169.66 L638.32 169.68 L638.71 169.71 L639.11 169.73 L639.50 169.75 L639.90 169.78 L640.29 169.80 L640.69 169.83 L641.09 169.85 L641.48 169.88 L641.88 169.91 L642.27 169.94 L642.67 169.97 L643.06 170.01 L643.46 170.04 L643.85 170.07 L644.25 170.11 L644.64 170.15 L645.04 170.18 L645.43 170.22 L645.83 170.26 L646.22 170.30 L646.62 170.34 L647.01 170.38 L647.41 170.43 L647.80 170.47 L648.20 170.52 L648.59 170.56 L648.99 170.61 L649.39 170.66 L649.78 170.71 L650.18 170.76 L650.57 170.81 L650.97 170.86 L651.36 170.91 L651.76 170.97 L652.15 171.02 L652.55 171.08 L652.94 171.14 L653.34 171.20 L653.73 171.25 L654.13 171.31 L654.52 171.38 L654.92 171.44 L655.31 171.50 L655.71 171.57" fill="none" stroke="#111" stroke-width="1.9" stroke-linecap="butt" stroke-linejoin="round"/>
<path d="M669.15 174.34 L669.54 174.44 L669.94 174.54 L670.33 174.64 L670.73 174.75 L671.12 174.85 L671.52 174.95 L671.91 175.06 L672.31 175.17 L672.70 175.27 L673.10 175.38 L673.49 175.49 L673.89 175.60 L674.29 175.71 L674.68 175.83 L675.08 175.94 L675.47 176.05 L675.87 176.17 L676.26 176.28 L676.66 176.40 L677.05 176.52 L677.45 176.64 L677.84 176.76 L678.24 176.88 L678.63 177.00 L679.03 177.13 L679.42 177.25 L679.82 177.38 L680.21 177.50 L680.61 177.63 L681.00 177.76 L681.40 177.89 L681.80 178.02 L682.19 178.15 L682.59 178.28 L682.98 178.42 L683.38 178.55 L683.77 178.69 L684.17 178.82 L684.56 178.96 L684.96 179.10 L685.35 179.24 L685.75 179.38 L686.14 179.52 L686.54 179.66 L686.93 179.81 L687.33 179.95 L687.72 180.10 L688.12 180.25 L688.51 180.39 L688.91 180.54 L689.30 180.69 L689.70 180.84 L690.10 180.99 L690.49 181.15 L690.89 181.30 L691.28 181.46 L691.68 181.61 L692.07 181.77 L692.47 181.93 L692.86 182.08 L693.26 182.24 L693.65 182.40 L694.05 182.57 L694.44 182.73 L694.84 182.89 L695.23 183.06 L695.63 183.22 L696.02 183.39 L696.42 183.56 L696.81 183.73 L697.21 183.90 L697.60 184.07 L698.00 184.24" fill="none" stroke="#111" stroke-width="1.9" stroke-linecap="butt" stroke-linejoin="round"/>
<line x1="495.30" y1="145.50" x2="495.30" y2="164.80" stroke="#3a3a3a" stroke-width="0.9" />
<line x1="492.10" y1="145.50" x2="498.50" y2="145.50" stroke="#3a3a3a" stroke-width="0.9" />
<line x1="492.10" y1="164.80" x2="498.50" y2="164.80" stroke="#3a3a3a" stroke-width="0.9" />
<line x1="495.30" y1="181.60" x2="495.30" y2="195.80" stroke="#3a3a3a" stroke-width="0.9" />
<line x1="492.10" y1="181.60" x2="498.50" y2="181.60" stroke="#3a3a3a" stroke-width="0.9" />
<line x1="492.10" y1="195.80" x2="498.50" y2="195.80" stroke="#3a3a3a" stroke-width="0.9" />
<line x1="495.00" y1="216.25" x2="495.00" y2="238.00" stroke="#3a3a3a" stroke-width="0.9" />
<line x1="491.80" y1="216.25" x2="498.20" y2="216.25" stroke="#3a3a3a" stroke-width="0.9" />
<line x1="491.80" y1="238.00" x2="498.20" y2="238.00" stroke="#3a3a3a" stroke-width="0.9" />
<line x1="529.20" y1="144.10" x2="529.20" y2="170.50" stroke="#3a3a3a" stroke-width="0.9" />
<line x1="526.00" y1="144.10" x2="532.40" y2="144.10" stroke="#3a3a3a" stroke-width="0.9" />
<line x1="526.00" y1="170.50" x2="532.40" y2="170.50" stroke="#3a3a3a" stroke-width="0.9" />
<line x1="528.75" y1="199.50" x2="528.75" y2="223.25" stroke="#3a3a3a" stroke-width="0.9" />
<line x1="525.55" y1="199.50" x2="531.95" y2="199.50" stroke="#3a3a3a" stroke-width="0.9" />
<line x1="525.55" y1="223.25" x2="531.95" y2="223.25" stroke="#3a3a3a" stroke-width="0.9" />
<line x1="563.20" y1="119.80" x2="563.20" y2="144.10" stroke="#3a3a3a" stroke-width="0.9" />
<line x1="560.00" y1="119.80" x2="566.40" y2="119.80" stroke="#3a3a3a" stroke-width="0.9" />
<line x1="560.00" y1="144.10" x2="566.40" y2="144.10" stroke="#3a3a3a" stroke-width="0.9" />
<line x1="562.60" y1="181.00" x2="562.60" y2="190.50" stroke="#3a3a3a" stroke-width="0.9" />
<line x1="559.40" y1="181.00" x2="565.80" y2="181.00" stroke="#3a3a3a" stroke-width="0.9" />
<line x1="559.40" y1="190.50" x2="565.80" y2="190.50" stroke="#3a3a3a" stroke-width="0.9" />
<line x1="597.10" y1="79.90" x2="597.10" y2="101.10" stroke="#3a3a3a" stroke-width="0.9" />
<line x1="593.90" y1="79.90" x2="600.30" y2="79.90" stroke="#3a3a3a" stroke-width="0.9" />
<line x1="593.90" y1="101.10" x2="600.30" y2="101.10" stroke="#3a3a3a" stroke-width="0.9" />
<line x1="597.10" y1="163.80" x2="597.10" y2="184.70" stroke="#3a3a3a" stroke-width="0.9" />
<line x1="593.90" y1="163.80" x2="600.30" y2="163.80" stroke="#3a3a3a" stroke-width="0.9" />
<line x1="593.90" y1="184.70" x2="600.30" y2="184.70" stroke="#3a3a3a" stroke-width="0.9" />
<line x1="630.90" y1="39.50" x2="630.90" y2="86.80" stroke="#3a3a3a" stroke-width="0.9" />
<line x1="627.70" y1="39.50" x2="634.10" y2="39.50" stroke="#3a3a3a" stroke-width="0.9" />
<line x1="627.70" y1="86.80" x2="634.10" y2="86.80" stroke="#3a3a3a" stroke-width="0.9" />
<line x1="630.90" y1="64.00" x2="630.90" y2="93.00" stroke="#3a3a3a" stroke-width="0.9" />
<line x1="627.70" y1="64.00" x2="634.10" y2="64.00" stroke="#3a3a3a" stroke-width="0.9" />
<line x1="627.70" y1="93.00" x2="634.10" y2="93.00" stroke="#3a3a3a" stroke-width="0.9" />
<line x1="630.90" y1="142.50" x2="630.90" y2="163.00" stroke="#3a3a3a" stroke-width="0.9" />
<line x1="627.70" y1="142.50" x2="634.10" y2="142.50" stroke="#3a3a3a" stroke-width="0.9" />
<line x1="627.70" y1="163.00" x2="634.10" y2="163.00" stroke="#3a3a3a" stroke-width="0.9" />
<line x1="664.90" y1="51.00" x2="664.90" y2="77.60" stroke="#3a3a3a" stroke-width="0.9" />
<line x1="661.70" y1="51.00" x2="668.10" y2="51.00" stroke="#3a3a3a" stroke-width="0.9" />
<line x1="661.70" y1="77.60" x2="668.10" y2="77.60" stroke="#3a3a3a" stroke-width="0.9" />
<line x1="664.90" y1="64.30" x2="664.90" y2="95.30" stroke="#3a3a3a" stroke-width="0.9" />
<line x1="661.70" y1="64.30" x2="668.10" y2="64.30" stroke="#3a3a3a" stroke-width="0.9" />
<line x1="661.70" y1="95.30" x2="668.10" y2="95.30" stroke="#3a3a3a" stroke-width="0.9" />
<line x1="664.20" y1="170.20" x2="664.20" y2="192.00" stroke="#3a3a3a" stroke-width="0.9" />
<line x1="661.00" y1="170.20" x2="667.40" y2="170.20" stroke="#3a3a3a" stroke-width="0.9" />
<line x1="661.00" y1="192.00" x2="667.40" y2="192.00" stroke="#3a3a3a" stroke-width="0.9" />
<line x1="698.60" y1="16.50" x2="698.60" y2="58.60" stroke="#3a3a3a" stroke-width="0.9" />
<line x1="695.40" y1="16.50" x2="701.80" y2="16.50" stroke="#3a3a3a" stroke-width="0.9" />
<line x1="695.40" y1="58.60" x2="701.80" y2="58.60" stroke="#3a3a3a" stroke-width="0.9" />
<line x1="698.60" y1="69.40" x2="698.60" y2="107.50" stroke="#3a3a3a" stroke-width="0.9" />
<line x1="695.40" y1="69.40" x2="701.80" y2="69.40" stroke="#3a3a3a" stroke-width="0.9" />
<line x1="695.40" y1="107.50" x2="701.80" y2="107.50" stroke="#3a3a3a" stroke-width="0.9" />
<line x1="698.00" y1="172.50" x2="698.00" y2="196.60" stroke="#3a3a3a" stroke-width="0.9" />
<line x1="694.80" y1="172.50" x2="701.20" y2="172.50" stroke="#3a3a3a" stroke-width="0.9" />
<line x1="694.80" y1="196.60" x2="701.20" y2="196.60" stroke="#3a3a3a" stroke-width="0.9" />
<line x1="529.20" y1="165.00" x2="529.20" y2="171.90" stroke="#3a3a3a" stroke-width="0.9" />
<line x1="526.00" y1="171.90" x2="532.40" y2="171.90" stroke="#3a3a3a" stroke-width="0.9" />
<path d="M495.30 150.01 L499.50 157.81 L491.10 157.81Z" fill="#111"/>
<path d="M529.20 153.01 L533.40 160.81 L525.00 160.81Z" fill="#111"/>
<path d="M563.20 120.21 L567.40 128.01 L559.00 128.01Z" fill="#111"/>
<path d="M597.10 84.11 L601.30 91.91 L592.90 91.91Z" fill="#111"/>
<path d="M630.90 73.81 L635.10 81.61 L626.70 81.61Z" fill="#111"/>
<path d="M664.90 75.41 L669.10 83.21 L660.70 83.21Z" fill="#111"/>
<path d="M698.60 83.51 L702.80 91.31 L694.40 91.31Z" fill="#111"/>
<rect x="457.55" y="253.80" width="7.4" height="7.4" fill="#111"/>
<rect x="491.30" y="224.30" width="7.4" height="7.4" fill="#111"/>
<rect x="525.05" y="207.55" width="7.4" height="7.4" fill="#111"/>
<rect x="558.90" y="182.00" width="7.4" height="7.4" fill="#111"/>
<rect x="593.40" y="170.60" width="7.4" height="7.4" fill="#111"/>
<rect x="627.20" y="148.70" width="7.4" height="7.4" fill="#111"/>
<rect x="660.50" y="177.30" width="7.4" height="7.4" fill="#111"/>
<rect x="694.30" y="181.00" width="7.4" height="7.4" fill="#111"/>
<circle cx="461.25" cy="236.25" r="4.2" fill="#111"/>
<circle cx="495.30" cy="189.30" r="4.2" fill="#111"/>
<circle cx="529.20" cy="163.40" r="4.2" fill="#111"/>
<circle cx="563.20" cy="134.00" r="4.2" fill="#111"/>
<circle cx="597.10" cy="94.20" r="4.2" fill="#111"/>
<circle cx="630.90" cy="63.20" r="4.2" fill="#111"/>
<circle cx="664.90" cy="64.30" r="4.2" fill="#111"/>
<circle cx="698.60" cy="37.90" r="4.2" fill="#111"/>
<circle cx="582.60" cy="231.10" r="4.2" fill="#111"/>
<rect x="578.90" y="241.90" width="7.4" height="7.4" fill="#111"/>
<path d="M582.60 256.01 L586.80 263.81 L578.40 263.81Z" fill="#111"/>
<text x="602.20" y="235.40" font-size="11.6" text-anchor="start" transform="rotate(0.3 602.20 235.40)" fill="#161616" stroke="#161616" stroke-width="0.65">compounded MMFI</text>
<text x="602.20" y="249.90" font-size="11.6" text-anchor="start" transform="rotate(0.3 602.20 249.90)" fill="#161616" stroke="#161616" stroke-width="0.65">compounded LMFI</text>
<text x="602.20" y="264.60" font-size="11.6" text-anchor="start" transform="rotate(0.3 602.20 264.60)" fill="#161616" stroke="#161616" stroke-width="0.65">blended MMFI</text>
<line x1="59.60" y1="394.50" x2="362.80" y2="394.90" stroke="#787878" stroke-width="1.3" />
<line x1="362.80" y1="394.90" x2="362.60" y2="699.00" stroke="#787878" stroke-width="1.3" />
<line x1="59.30" y1="698.40" x2="362.60" y2="699.00" stroke="#505050" stroke-width="1.8" stroke-linecap="square"/>
<line x1="59.60" y1="394.50" x2="59.30" y2="698.40" stroke="#505050" stroke-width="1.8" stroke-linecap="square"/>
<text x="54.30" y="398.50" font-size="11.5" text-anchor="end" transform="rotate(0.3 54.30 398.50)" fill="#161616" stroke="#161616" stroke-width="0.65">25</text>
<line x1="59.40" y1="446.25" x2="65.60" y2="446.25" stroke="#505050" stroke-width="1.3" />
<text x="54.30" y="450.35" font-size="11.5" text-anchor="end" transform="rotate(0.3 54.30 450.35)" fill="#161616" stroke="#161616" stroke-width="0.65">20</text>
<line x1="59.40" y1="497.50" x2="65.60" y2="497.50" stroke="#505050" stroke-width="1.3" />
<text x="54.30" y="501.60" font-size="11.5" text-anchor="end" transform="rotate(0.3 54.30 501.60)" fill="#161616" stroke="#161616" stroke-width="0.65">15</text>
<line x1="59.40" y1="548.75" x2="65.60" y2="548.75" stroke="#505050" stroke-width="1.3" />
<text x="54.30" y="552.85" font-size="11.5" text-anchor="end" transform="rotate(0.3 54.30 552.85)" fill="#161616" stroke="#161616" stroke-width="0.65">10</text>
<line x1="59.40" y1="600.00" x2="65.60" y2="600.00" stroke="#505050" stroke-width="1.3" />
<text x="54.30" y="604.10" font-size="11.5" text-anchor="end" transform="rotate(0.3 54.30 604.10)" fill="#161616" stroke="#161616" stroke-width="0.65">5</text>
<line x1="59.40" y1="652.00" x2="65.60" y2="652.00" stroke="#505050" stroke-width="1.3" />
<text x="54.30" y="656.10" font-size="11.5" text-anchor="end" transform="rotate(0.3 54.30 656.10)" fill="#161616" stroke="#161616" stroke-width="0.65">0</text>
<line x1="90.00" y1="698.46" x2="90.00" y2="692.46" stroke="#505050" stroke-width="1.3" />
<text x="90.00" y="715.66" font-size="11.5" text-anchor="middle" transform="rotate(0.3 90.00 715.66)" fill="#161616" stroke="#161616" stroke-width="0.65">0</text>
<line x1="124.25" y1="698.53" x2="124.25" y2="692.53" stroke="#505050" stroke-width="1.3" />
<text x="124.25" y="715.73" font-size="11.5" text-anchor="middle" transform="rotate(0.3 124.25 715.73)" fill="#161616" stroke="#161616" stroke-width="0.65">10</text>
<line x1="158.00" y1="698.60" x2="158.00" y2="692.60" stroke="#505050" stroke-width="1.3" />
<text x="158.00" y="715.80" font-size="11.5" text-anchor="middle" transform="rotate(0.3 158.00 715.80)" fill="#161616" stroke="#161616" stroke-width="0.65">20</text>
<line x1="192.00" y1="698.66" x2="192.00" y2="692.66" stroke="#505050" stroke-width="1.3" />
<text x="192.00" y="715.86" font-size="11.5" text-anchor="middle" transform="rotate(0.3 192.00 715.86)" fill="#161616" stroke="#161616" stroke-width="0.65">30</text>
<line x1="225.70" y1="698.73" x2="225.70" y2="692.73" stroke="#505050" stroke-width="1.3" />
<text x="225.70" y="715.93" font-size="11.5" text-anchor="middle" transform="rotate(0.3 225.70 715.93)" fill="#161616" stroke="#161616" stroke-width="0.65">40</text>
<line x1="259.70" y1="698.80" x2="259.70" y2="692.80" stroke="#505050" stroke-width="1.3" />
<text x="259.70" y="716.00" font-size="11.5" text-anchor="middle" transform="rotate(0.3 259.70 716.00)" fill="#161616" stroke="#161616" stroke-width="0.65">50</text>
<line x1="293.50" y1="698.86" x2="293.50" y2="692.86" stroke="#505050" stroke-width="1.3" />
<text x="293.50" y="716.06" font-size="11.5" text-anchor="middle" transform="rotate(0.3 293.50 716.06)" fill="#161616" stroke="#161616" stroke-width="0.65">60</text>
<line x1="327.50" y1="698.93" x2="327.50" y2="692.93" stroke="#505050" stroke-width="1.3" />
<text x="327.50" y="716.13" font-size="11.5" text-anchor="middle" transform="rotate(0.3 327.50 716.13)" fill="#161616" stroke="#161616" stroke-width="0.65">70</text>
<text x="361.50" y="716.20" font-size="11.5" text-anchor="middle" transform="rotate(0.3 361.50 716.20)" fill="#161616" stroke="#161616" stroke-width="0.65">80</text>
<text x="210.00" y="736.70" font-size="11.7" text-anchor="middle" font-weight="bold" transform="rotate(0.3 210.00 736.70)" fill="#161616" stroke="#161616" stroke-width="0.45">Wood flake content [wt%]</text>
<text x="27.60" y="546.50" font-size="11.8" text-anchor="middle" font-weight="bold" transform="rotate(-89.7 27.60 546.50)" fill="#161616" stroke="#161616" stroke-width="0.45">% Elongation at yield or break</text>
<text x="77.00" y="418.30" font-size="19.3" text-anchor="middle" font-weight="bold" transform="rotate(0.3 77.00 418.30)" fill="#111" stroke="#111" stroke-width="0.45">c</text>
<path d="M90.00 468.75 L90.72 471.82 L91.44 474.94 L92.17 478.12 L92.90 481.32 L93.63 484.54 L94.37 487.77 L95.10 490.98 L95.83 494.18 L96.56 497.34 L97.28 500.45 L98.00 503.49 L98.70 506.46 L99.40 509.34 L100.08 512.11 L100.75 514.77 L101.40 517.30 L101.84 518.96 L102.26 520.57 L102.67 522.12 L103.07 523.63 L103.47 525.10 L103.86 526.53 L104.24 527.94 L104.63 529.31 L105.02 530.67 L105.41 532.01 L105.82 533.34 L106.22 534.66 L106.65 535.98 L107.08 537.31 L107.53 538.65 L108.00 540.00 L108.47 541.31 L108.96 542.63 L109.47 543.95 L110.00 545.28 L110.53 546.61 L111.08 547.93 L111.63 549.24 L112.18 550.54 L112.73 551.82 L113.28 553.08 L113.82 554.32 L114.35 555.53 L114.87 556.70 L115.37 557.84 L115.85 558.94 L116.30 560.00 L116.61 560.73 L116.90 561.43 L117.18 562.12 L117.45 562.80 L117.71 563.46 L117.97 564.11 L118.23 564.74 L118.48 565.36 L118.73 565.97 L118.99 566.57 L119.25 567.16 L119.52 567.74 L119.79 568.32 L120.08 568.88 L120.38 569.44 L120.70 570.00 L120.99 570.49 L121.28 570.99 L121.56 571.47 L121.85 571.96 L122.14 572.43 L122.44 572.90 L122.74 573.36 L123.05 573.82 L123.37 574.26 L123.70 574.69 L124.04 575.11 L124.40 575.52 L124.77 575.91 L125.16 576.29 L125.57 576.65 L126.00 577.00 L126.50 577.37 L127.03 577.72 L127.59 578.06 L128.16 578.39 L128.76 578.70 L129.37 579.00 L130.00 579.28 L130.65 579.55 L131.30 579.80 L131.96 580.03 L132.63 580.24 L133.31 580.43 L133.98 580.60 L134.66 580.76 L135.33 580.89 L136.00 581.00 L136.71 581.09 L137.44 581.15 L138.18 581.18 L138.92 581.19 L139.68 581.18 L140.44 581.14 L141.21 581.08 L141.98 581.01 L142.75 580.92 L143.52 580.81 L144.28 580.69 L145.05 580.57 L145.80 580.43 L146.54 580.29 L147.28 580.15 L148.00 580.00 L148.68 579.83 L149.34 579.60 L150.00 579.32 L150.66 579.01 L151.30 578.68 L151.95 578.33 L152.59 577.98 L153.22 577.63 L153.86 577.31 L154.50 577.02 L155.14 576.77 L155.78 576.57 L156.43 576.43 L157.08 576.36 L157.73 576.38 L158.40 576.50 L159.40 576.85 L160.41 577.38 L161.42 578.09 L162.45 578.95 L163.48 579.94 L164.52 581.04 L165.56 582.23 L166.61 583.50 L167.66 584.82 L168.71 586.18 L169.76 587.55 L170.81 588.93 L171.86 590.27 L172.91 591.58 L173.96 592.83 L175.00 594.00 L176.08 595.19 L177.18 596.43 L178.29 597.71 L179.41 599.02 L180.54 600.35 L181.66 601.69 L182.79 603.03 L183.91 604.35 L185.02 605.64 L186.11 606.90 L187.19 608.10 L188.25 609.25 L189.29 610.32 L190.29 611.31 L191.26 612.21 L192.20 613.00 L192.73 613.41 L193.23 613.79 L193.70 614.12 L194.16 614.43 L194.60 614.72 L195.04 614.98 L195.47 615.22 L195.90 615.45 L196.34 615.68 L196.79 615.90 L197.26 616.12 L197.74 616.35 L198.26 616.58 L198.80 616.84 L199.38 617.11 L200.00 617.40 L201.18 617.96 L202.45 618.57 L203.81 619.21 L205.24 619.88 L206.75 620.58 L208.31 621.28 L209.94 622.00 L211.61 622.72 L213.31 623.42 L215.05 624.12 L216.81 624.79 L218.59 625.44 L220.38 626.05 L222.16 626.62 L223.94 627.14 L225.70 627.60 L227.67 628.04 L229.68 628.39 L231.73 628.68 L233.82 628.91 L235.93 629.09 L238.07 629.24 L240.22 629.37 L242.39 629.48 L244.57 629.58 L246.76 629.70 L248.94 629.84 L251.12 630.00 L253.29 630.21 L255.45 630.47 L257.59 630.80 L259.70 631.20 L261.83 631.69 L263.96 632.26 L266.07 632.88 L268.18 633.56 L270.29 634.29 L272.39 635.04 L274.49 635.82 L276.58 636.61 L278.68 637.39 L280.78 638.17 L282.88 638.92 L284.99 639.64 L287.11 640.32 L289.23 640.95 L291.36 641.51 L293.50 642.00 L295.63 642.41 L297.76 642.78 L299.90 643.10 L302.05 643.38 L304.20 643.62 L306.36 643.84 L308.52 644.03 L310.68 644.20 L312.85 644.35 L315.02 644.50 L317.18 644.65 L319.35 644.79 L321.52 644.95 L323.68 645.11 L325.84 645.29 L328.00 645.50" fill="none" stroke="#111" stroke-width="1.2" stroke-linecap="butt" stroke-linejoin="round"/>
<path d="M90.00 438.20 L91.03 440.75 L92.05 443.31 L93.06 445.88 L94.07 448.46 L95.07 451.04 L96.08 453.62 L97.09 456.21 L98.10 458.78 L99.11 461.35 L100.13 463.90 L101.16 466.45 L102.20 468.97 L103.25 471.47 L104.32 473.94 L105.40 476.39 L106.50 478.80 L107.54 481.02 L108.60 483.21 L109.67 485.38 L110.76 487.53 L111.86 489.66 L112.97 491.77 L114.08 493.87 L115.20 495.96 L116.32 498.04 L117.44 500.12 L118.56 502.19 L119.68 504.26 L120.80 506.34 L121.91 508.42 L123.01 510.50 L124.10 512.60 L125.17 514.68 L126.22 516.78 L127.27 518.89 L128.31 521.00 L129.35 523.11 L130.39 525.23 L131.42 527.34 L132.46 529.44 L133.50 531.54 L134.54 533.62 L135.59 535.69 L136.65 537.74 L137.72 539.77 L138.80 541.78 L139.89 543.75 L141.00 545.70 L142.04 547.48 L143.09 549.25 L144.15 551.00 L145.21 552.74 L146.28 554.47 L147.36 556.18 L148.45 557.87 L149.54 559.56 L150.64 561.22 L151.74 562.87 L152.84 564.50 L153.95 566.12 L155.06 567.71 L156.17 569.29 L157.29 570.86 L158.40 572.40 L159.42 573.79 L160.43 575.16 L161.45 576.52 L162.47 577.87 L163.49 579.20 L164.51 580.51 L165.54 581.81 L166.57 583.10 L167.60 584.38 L168.64 585.64 L169.68 586.89 L170.73 588.14 L171.79 589.37 L172.85 590.59 L173.92 591.80 L175.00 593.00 L176.05 594.16 L177.12 595.34 L178.22 596.54 L179.33 597.74 L180.46 598.94 L181.59 600.14 L182.72 601.32 L183.85 602.47 L184.97 603.60 L186.08 604.69 L187.17 605.73 L188.24 606.72 L189.28 607.65 L190.29 608.51 L191.27 609.30 L192.20 610.00 L192.73 610.38 L193.23 610.72 L193.71 611.03 L194.17 611.31 L194.62 611.56 L195.05 611.80 L195.48 612.02 L195.92 612.23 L196.35 612.43 L196.80 612.63 L197.27 612.83 L197.75 613.04 L198.26 613.26 L198.81 613.48 L199.38 613.73 L200.00 614.00 L201.18 614.51 L202.46 615.06 L203.82 615.63 L205.26 616.22 L206.77 616.82 L208.34 617.45 L209.97 618.08 L211.64 618.71 L213.35 619.35 L215.09 619.99 L216.85 620.61 L218.62 621.23 L220.41 621.83 L222.18 622.41 L223.95 622.97 L225.70 623.50 L227.68 624.07 L229.70 624.62 L231.75 625.15 L233.83 625.67 L235.93 626.17 L238.06 626.66 L240.21 627.13 L242.37 627.60 L244.54 628.06 L246.72 628.51 L248.90 628.96 L251.08 629.40 L253.25 629.85 L255.41 630.30 L257.57 630.75 L259.70 631.20 L261.81 631.66 L263.92 632.13 L266.03 632.60 L268.14 633.08 L270.24 633.56 L272.35 634.04 L274.45 634.51 L276.56 634.97 L278.67 635.43 L280.78 635.87 L282.89 636.29 L285.00 636.70 L287.12 637.09 L289.24 637.45 L291.37 637.79 L293.50 638.10 L295.64 638.38 L297.78 638.62 L299.93 638.84 L302.08 639.04 L304.23 639.21 L306.39 639.36 L308.55 639.50 L310.71 639.63 L312.87 639.74 L315.03 639.86 L317.20 639.97 L319.36 640.08 L321.52 640.19 L323.68 640.32 L325.84 640.45 L328.00 640.60" fill="none" stroke="#111" stroke-width="1.35" stroke-dasharray="6.5 2.8" stroke-dashoffset="0" stroke-linecap="butt" stroke-linejoin="round"/>
<path d="M90.00 468.75 L124.10 598.80 L158.40 598.60 L192.20 616.00 L225.70 619.80 L259.70 628.50 L293.50 625.20 L328.00 632.90" fill="none" stroke="#444" stroke-width="1.0" stroke-dasharray="1 1.6" stroke-dashoffset="0" stroke-linecap="butt" stroke-linejoin="round"/>
<line x1="90.00" y1="416.75" x2="90.00" y2="458.60" stroke="#222" stroke-width="1.2" />
<line x1="86.80" y1="416.75" x2="93.20" y2="416.75" stroke="#222" stroke-width="1.2" />
<line x1="86.80" y1="458.60" x2="93.20" y2="458.60" stroke="#222" stroke-width="1.2" />
<line x1="124.10" y1="504.20" x2="124.10" y2="519.80" stroke="#3a3a3a" stroke-width="0.9" />
<line x1="120.90" y1="504.20" x2="127.30" y2="504.20" stroke="#3a3a3a" stroke-width="0.9" />
<line x1="120.90" y1="519.80" x2="127.30" y2="519.80" stroke="#3a3a3a" stroke-width="0.9" />
<line x1="124.00" y1="567.40" x2="124.00" y2="580.60" stroke="#3a3a3a" stroke-width="0.9" />
<line x1="120.80" y1="567.40" x2="127.20" y2="567.40" stroke="#3a3a3a" stroke-width="0.9" />
<line x1="120.80" y1="580.60" x2="127.20" y2="580.60" stroke="#3a3a3a" stroke-width="0.9" />
<line x1="124.00" y1="592.80" x2="124.00" y2="605.50" stroke="#3a3a3a" stroke-width="0.9" />
<line x1="120.80" y1="592.80" x2="127.20" y2="592.80" stroke="#3a3a3a" stroke-width="0.9" />
<line x1="120.80" y1="605.50" x2="127.20" y2="605.50" stroke="#3a3a3a" stroke-width="0.9" />
<line x1="158.40" y1="565.20" x2="158.40" y2="583.50" stroke="#3a3a3a" stroke-width="0.9" />
<line x1="155.20" y1="565.20" x2="161.60" y2="565.20" stroke="#3a3a3a" stroke-width="0.9" />
<line x1="155.20" y1="583.50" x2="161.60" y2="583.50" stroke="#3a3a3a" stroke-width="0.9" />
<line x1="158.40" y1="590.00" x2="158.40" y2="607.40" stroke="#3a3a3a" stroke-width="0.9" />
<line x1="155.20" y1="590.00" x2="161.60" y2="590.00" stroke="#3a3a3a" stroke-width="0.9" />
<line x1="155.20" y1="607.40" x2="161.60" y2="607.40" stroke="#3a3a3a" stroke-width="0.9" />
<line x1="192.20" y1="599.20" x2="192.20" y2="620.00" stroke="#3a3a3a" stroke-width="0.9" />
<line x1="189.00" y1="599.20" x2="195.40" y2="599.20" stroke="#3a3a3a" stroke-width="0.9" />
<line x1="189.00" y1="620.00" x2="195.40" y2="620.00" stroke="#3a3a3a" stroke-width="0.9" />
<line x1="225.70" y1="614.00" x2="225.70" y2="630.00" stroke="#3a3a3a" stroke-width="0.9" />
<line x1="222.50" y1="614.00" x2="228.90" y2="614.00" stroke="#3a3a3a" stroke-width="0.9" />
<line x1="222.50" y1="630.00" x2="228.90" y2="630.00" stroke="#3a3a3a" stroke-width="0.9" />
<line x1="259.70" y1="624.00" x2="259.70" y2="635.00" stroke="#3a3a3a" stroke-width="0.9" />
<line x1="256.50" y1="624.00" x2="262.90" y2="624.00" stroke="#3a3a3a" stroke-width="0.9" />
<line x1="256.50" y1="635.00" x2="262.90" y2="635.00" stroke="#3a3a3a" stroke-width="0.9" />
<line x1="328.00" y1="628.20" x2="328.00" y2="637.00" stroke="#3a3a3a" stroke-width="0.9" />
<line x1="324.80" y1="628.20" x2="331.20" y2="628.20" stroke="#3a3a3a" stroke-width="0.9" />
<line x1="324.80" y1="637.00" x2="331.20" y2="637.00" stroke="#3a3a3a" stroke-width="0.9" />
<path d="M124.00 594.51 L128.20 602.31 L119.80 602.31Z" fill="#111"/>
<path d="M158.40 594.21 L162.60 602.01 L154.20 602.01Z" fill="#111"/>
<path d="M192.20 611.71 L196.40 619.51 L188.00 619.51Z" fill="#111"/>
<path d="M225.70 615.01 L229.90 622.81 L221.50 622.81Z" fill="#111"/>
<path d="M259.70 624.21 L263.90 632.01 L255.50 632.01Z" fill="#111"/>
<path d="M293.50 620.01 L297.70 627.81 L289.30 627.81Z" fill="#111"/>
<path d="M328.00 628.11 L332.20 635.91 L323.80 635.91Z" fill="#111"/>
<rect x="86.30" y="434.50" width="7.4" height="7.4" fill="#111"/>
<rect x="120.40" y="508.90" width="7.4" height="7.4" fill="#111"/>
<rect x="154.70" y="568.70" width="7.4" height="7.4" fill="#111"/>
<rect x="188.50" y="606.30" width="7.4" height="7.4" fill="#111"/>
<rect x="222.00" y="618.80" width="7.4" height="7.4" fill="#111"/>
<rect x="256.00" y="627.80" width="7.4" height="7.4" fill="#111"/>
<rect x="289.80" y="633.50" width="7.4" height="7.4" fill="#111"/>
<rect x="324.30" y="637.20" width="7.4" height="7.4" fill="#111"/>
<circle cx="90.00" cy="468.75" r="4.2" fill="#111"/>
<circle cx="124.00" cy="574.20" r="4.2" fill="#111"/>
<circle cx="158.40" cy="576.80" r="4.2" fill="#111"/>
<circle cx="192.20" cy="612.50" r="4.2" fill="#111"/>
<circle cx="225.70" cy="626.60" r="4.2" fill="#111"/>
<circle cx="259.70" cy="630.50" r="4.2" fill="#111"/>
<circle cx="293.50" cy="640.90" r="4.2" fill="#111"/>
<circle cx="328.00" cy="646.10" r="4.2" fill="#111"/>
<line x1="190.80" y1="433.40" x2="218.00" y2="433.40" stroke="#222" stroke-width="1.0" />
<circle cx="204.40" cy="433.40" r="4.2" fill="#111"/>
<line x1="190.8" y1="447.5" x2="218" y2="447.5" stroke="#222" stroke-width="1.2" stroke-dasharray="6 2.5"/>
<rect x="200.70" y="443.80" width="7.4" height="7.4" fill="#111"/>
<line x1="190.8" y1="461.6" x2="218" y2="461.6" stroke="#555" stroke-width="1" stroke-dasharray="1 1.6"/>
<path d="M204.40 457.31 L208.60 465.11 L200.20 465.11Z" fill="#111"/>
<text x="224.90" y="437.20" font-size="11.6" text-anchor="start" transform="rotate(0.3 224.90 437.20)" fill="#161616" stroke="#161616" stroke-width="0.65">compounded MMFI</text>
<text x="224.90" y="451.30" font-size="11.6" text-anchor="start" transform="rotate(0.3 224.90 451.30)" fill="#161616" stroke="#161616" stroke-width="0.65">compounded LMFI</text>
<text x="224.90" y="465.40" font-size="11.6" text-anchor="start" transform="rotate(0.3 224.90 465.40)" fill="#161616" stroke="#161616" stroke-width="0.65">blended MMFI</text>
</g>
</svg>
</body></html>
